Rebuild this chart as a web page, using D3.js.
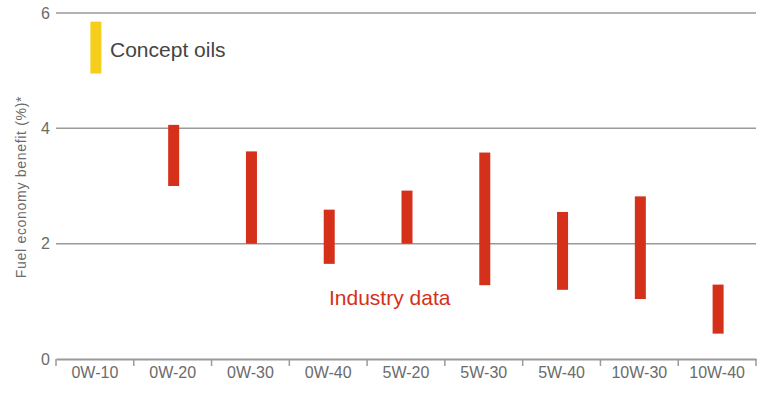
<!DOCTYPE html>
<html>
<head>
<meta charset="utf-8">
<script src="https://cdn.jsdelivr.net/npm/d3@7"></script>
<style>
  body { margin: 0; background: #fff; font-family: "Liberation Sans", Arial, sans-serif; }
</style>
</head>
<body>
<script>
const width = 766;
const height = 396;
const margin = { top: 13, right: 10, bottom: 37, left: 56 };

// oil grades along the x axis
const grades = ["0W-10", "0W-20", "0W-30", "0W-40", "5W-20", "5W-30", "5W-40", "10W-30", "10W-40"];
// range of fuel economy benefit (%) per grade: low / high
const lows = [4.95, 3.0, 2.0, 1.65, 2.0, 1.28, 1.2, 1.04, 0.44];
const highs = [5.85, 4.06, 3.6, 2.59, 2.92, 3.58, 2.55, 2.82, 1.29];
// first grade is Shell concept oils, rest is industry data
const kinds = ["concept", "industry", "industry", "industry", "industry", "industry", "industry", "industry", "industry"];
const yTicks = [0, 2, 4, 6];

const colors = { concept: "#f5cf1c", industry: "#d53019" };

const svg = d3.select("body")
  .append("svg")
  .attr("width", width)
  .attr("height", height);

const x = d3.scaleBand()
  .domain(grades)
  .range([margin.left, width - margin.right]);

const y = d3.scaleLinear()
  .domain([0, 6])
  .range([height - margin.bottom, margin.top]);

// gridlines
svg.append("g")
  .selectAll("line")
  .data(yTicks.filter(d => d > 0))
  .enter()
  .append("line")
  .attr("x1", margin.left)
  .attr("x2", width - margin.right)
  .attr("y1", d => y(d))
  .attr("y2", d => y(d))
  .attr("stroke", "#9a9a9a")
  .attr("stroke-width", 1.5);

// y tick labels
svg.append("g")
  .selectAll("text")
  .data(yTicks)
  .enter()
  .append("text")
  .attr("x", margin.left - 6)
  .attr("y", d => y(d))
  .attr("dy", "0.35em")
  .attr("text-anchor", "end")
  .attr("fill", "#6b6b6b")
  .style("font-size", "16px")
  .text(d => d);

// x axis
const xAxis = svg.append("g")
  .attr("transform", `translate(0, ${y(0)})`)
  .call(d3.axisBottom(x).tickSize(0).tickPadding(8));
xAxis.select(".domain")
  .attr("stroke", "#9a9a9a")
  .attr("stroke-width", 2);
xAxis.selectAll("text")
  .attr("fill", "#6b6b6b")
  .style("font-size", "16px")
  .style("font-family", "'Liberation Sans', Arial, sans-serif");

// tick separators between bands
svg.append("g")
  .selectAll("line")
  .data(grades.concat([null]))
  .enter()
  .append("line")
  .attr("x1", (d, i) => margin.left + i * x.step())
  .attr("x2", (d, i) => margin.left + i * x.step())
  .attr("y1", y(0))
  .attr("y2", y(0) + 7)
  .attr("stroke", "#9a9a9a")
  .attr("stroke-width", 1.5);

// range bars
const barW = 11;
svg.append("g")
  .selectAll("rect")
  .data(grades)
  .enter()
  .append("rect")
  .attr("x", d => x(d) + x.bandwidth() / 2 - barW / 2 + 1)
  .attr("width", barW)
  .attr("y", (d, i) => y(highs[i]))
  .attr("height", (d, i) => y(lows[i]) - y(highs[i]))
  .attr("fill", (d, i) => colors[kinds[i]]);

// labels
svg.append("text")
  .attr("x", 110)
  .attr("y", 57)
  .attr("fill", "#454545")
  .style("font-size", "21px")
  .text("Concept oils");

svg.append("text")
  .attr("x", 329)
  .attr("y", 305)
  .attr("fill", colors.industry)
  .style("font-size", "21px")
  .text("Industry data");

// y axis title
svg.append("text")
  .attr("transform", `translate(26, ${(y(0) + y(6)) / 2 + 1}) rotate(-90)`)
  .attr("text-anchor", "middle")
  .attr("fill", "#6b6b6b")
  .style("font-size", "14px")
  .style("letter-spacing", "0.7px")
  .text("Fuel economy benefit (%)*");
</script>
</body>
</html>
